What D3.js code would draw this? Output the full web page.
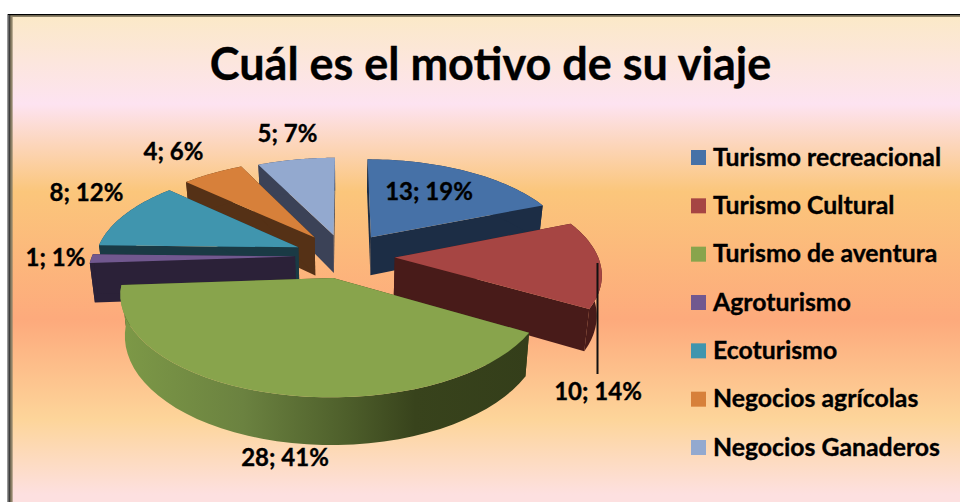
<!DOCTYPE html>
<html><head><meta charset="utf-8">
<script src="https://cdn.jsdelivr.net/npm/d3@7/dist/d3.min.js"></script>
<style>html,body{margin:0;padding:0;background:#fff;overflow:hidden}svg{display:block}text{font-family:Lato,"Open Sans",sans-serif;font-weight:700;fill:#000;stroke:#000;stroke-width:.35px}</style>
</head><body><svg id="c" width="960" height="502"></svg>
<script>
const title = "Cuál es el motivo de su viaje";
const categories = ["Turismo recreacional","Turismo Cultural","Turismo de aventura","Agroturismo","Ecoturismo","Negocios agrícolas","Negocios Ganaderos"];
const values = [13,10,28,1,8,4,5];
const topColors = ["#4671a7","#a64543","#88a44c","#71588f","#4095ae","#d7803a","#93a9cf"];
const sideColors = ["#1c2d45","#481b19","url(#greenRim)","#2b2138","#1a3a45","#553116","#3b4257"];
const explode = [.245,.25,.23,.241,.246,.25,.233];
const drawOrder = [6,5,4,0,3,1,2];
const labelPos = [[429,200],[598,400],[285,466],[55.5,266],[86.5,201],[173.5,160],[287.5,142]];

const total = d3.sum(values);
const svg = d3.select("#c");
const defs = svg.append("defs");

const bg = defs.append("linearGradient").attr("id","bg").attr("x1",0).attr("y1",0).attr("x2",0).attr("y2",1);
[[0,"#fbe9c8"],[.18,"#fde3f1"],[.36,"#fbc67b"],[.625,"#fdaa7c"],[.83,"#fdd59a"],[.985,"#fde0e0"],[1,"#fde0e0"]]
  .forEach(s=>bg.append("stop").attr("offset",s[0]).attr("stop-color",s[1]));
const gr = defs.append("linearGradient").attr("id","greenRim").attr("gradientUnits","userSpaceOnUse")
  .attr("x1",120).attr("x2",530).attr("y1",0).attr("y2",0);
[[0,"#7d9947"],[.3,"#6b8240"],[.55,"#4e5f2b"],[.72,"#38431c"],[1,"#343e1a"]]
  .forEach(s=>gr.append("stop").attr("offset",s[0]).attr("stop-color",s[1]));

// frame + background
svg.append("rect").attr("x",7.6).attr("y",14).attr("width",960).attr("height",500).attr("fill","#000");
svg.append("rect").attr("x",8.6).attr("y",15).attr("width",1).attr("height",500).attr("fill","#fff");
svg.append("rect").attr("x",9.4).attr("y",15).attr("width",960).attr("height",500).attr("fill","#000");
svg.append("rect").attr("x",10.2).attr("y",15.2).attr("width",960).attr("height",500).attr("fill","#8d8268");
svg.append("rect").attr("x",12.6).attr("y",17).attr("width",960).attr("height",485).attr("fill","url(#bg)");

svg.append("text").attr("x",490.5).attr("y",80).attr("text-anchor","middle").attr("font-size",45).text(title);

// pie angles from d3.pie, projected through a small perspective model
const arcs = d3.pie().sort(null).value(d=>d)(values);
const cx=344, cy=256, R=203, k=94.6, a=.148, H=39, taper=.98;
const scale = v => 1/(1+a*v);
function project(u,v,lower){
  const s=scale(v);
  let x=cx+u*s*R, y=cy-k*v*s;
  if(lower){ x=cx+(x-cx)*taper; y+=H*s; }
  return [x,y];
}
const line = d3.line();
arcs.forEach((d,i)=>{d.mid=(d.startAngle+d.endAngle)/2; d.ox=explode[i]*Math.sin(d.mid); d.oy=explode[i]*Math.cos(d.mid);});
const rimPts=(d,lower)=>d3.range(0,41).map(i=>{
  const t=d.startAngle+(d.endAngle-d.startAngle)*i/40;
  return project(d.ox+Math.sin(t),d.oy+Math.cos(t),lower);
});
const radial=(d,t)=>[project(d.ox,d.oy,false),project(d.ox+Math.sin(t),d.oy+Math.cos(t),false),
  project(d.ox+Math.sin(t),d.oy+Math.cos(t),true),project(d.ox,d.oy,true)];

const pieG = svg.append("g");
drawOrder.forEach(i=>{
  const d=arcs[i], g=pieG.append("g");
  const solid = i===2 ? "#38431c" : sideColors[i];
  g.append("path").attr("d",line(radial(d,d.startAngle))+"Z").attr("fill",solid);
  g.append("path").attr("d",line(radial(d,d.endAngle))+"Z").attr("fill",solid);
  g.append("path").attr("d",line(rimPts(d,false).concat(rimPts(d,true).reverse()))+"Z").attr("fill",sideColors[i]);
  g.append("path").attr("d",line([project(d.ox,d.oy,false)].concat(rimPts(d,false)))+"Z").attr("fill",topColors[i]);
});

// leader for the 10; 14% label
svg.append("line").attr("x1",597.5).attr("x2",597.5).attr("y1",263).attr("y2",374).attr("stroke","#111").attr("stroke-width",2);

svg.append("g").selectAll("text").data(arcs).join("text")
  .attr("x",(d,i)=>labelPos[i][0]).attr("y",(d,i)=>labelPos[i][1])
  .attr("text-anchor","middle").attr("font-size",24)
  .text(d=>`${d.value}; ${Math.round(d.value/total*100)}%`);

// legend
const ly = d3.scalePoint().domain(categories).range([157.5,447.5]);
const color = d3.scaleOrdinal().domain(categories).range(topColors);
const lg = svg.append("g").selectAll("g").data(categories).join("g").attr("transform",d=>`translate(691,${ly(d)})`);
lg.append("rect").attr("y",-7.5).attr("width",15).attr("height",15).attr("fill",d=>color(d));
lg.append("text").attr("x",22).attr("y",8).attr("font-size",24.8).text(d=>d);
</script></body></html>
